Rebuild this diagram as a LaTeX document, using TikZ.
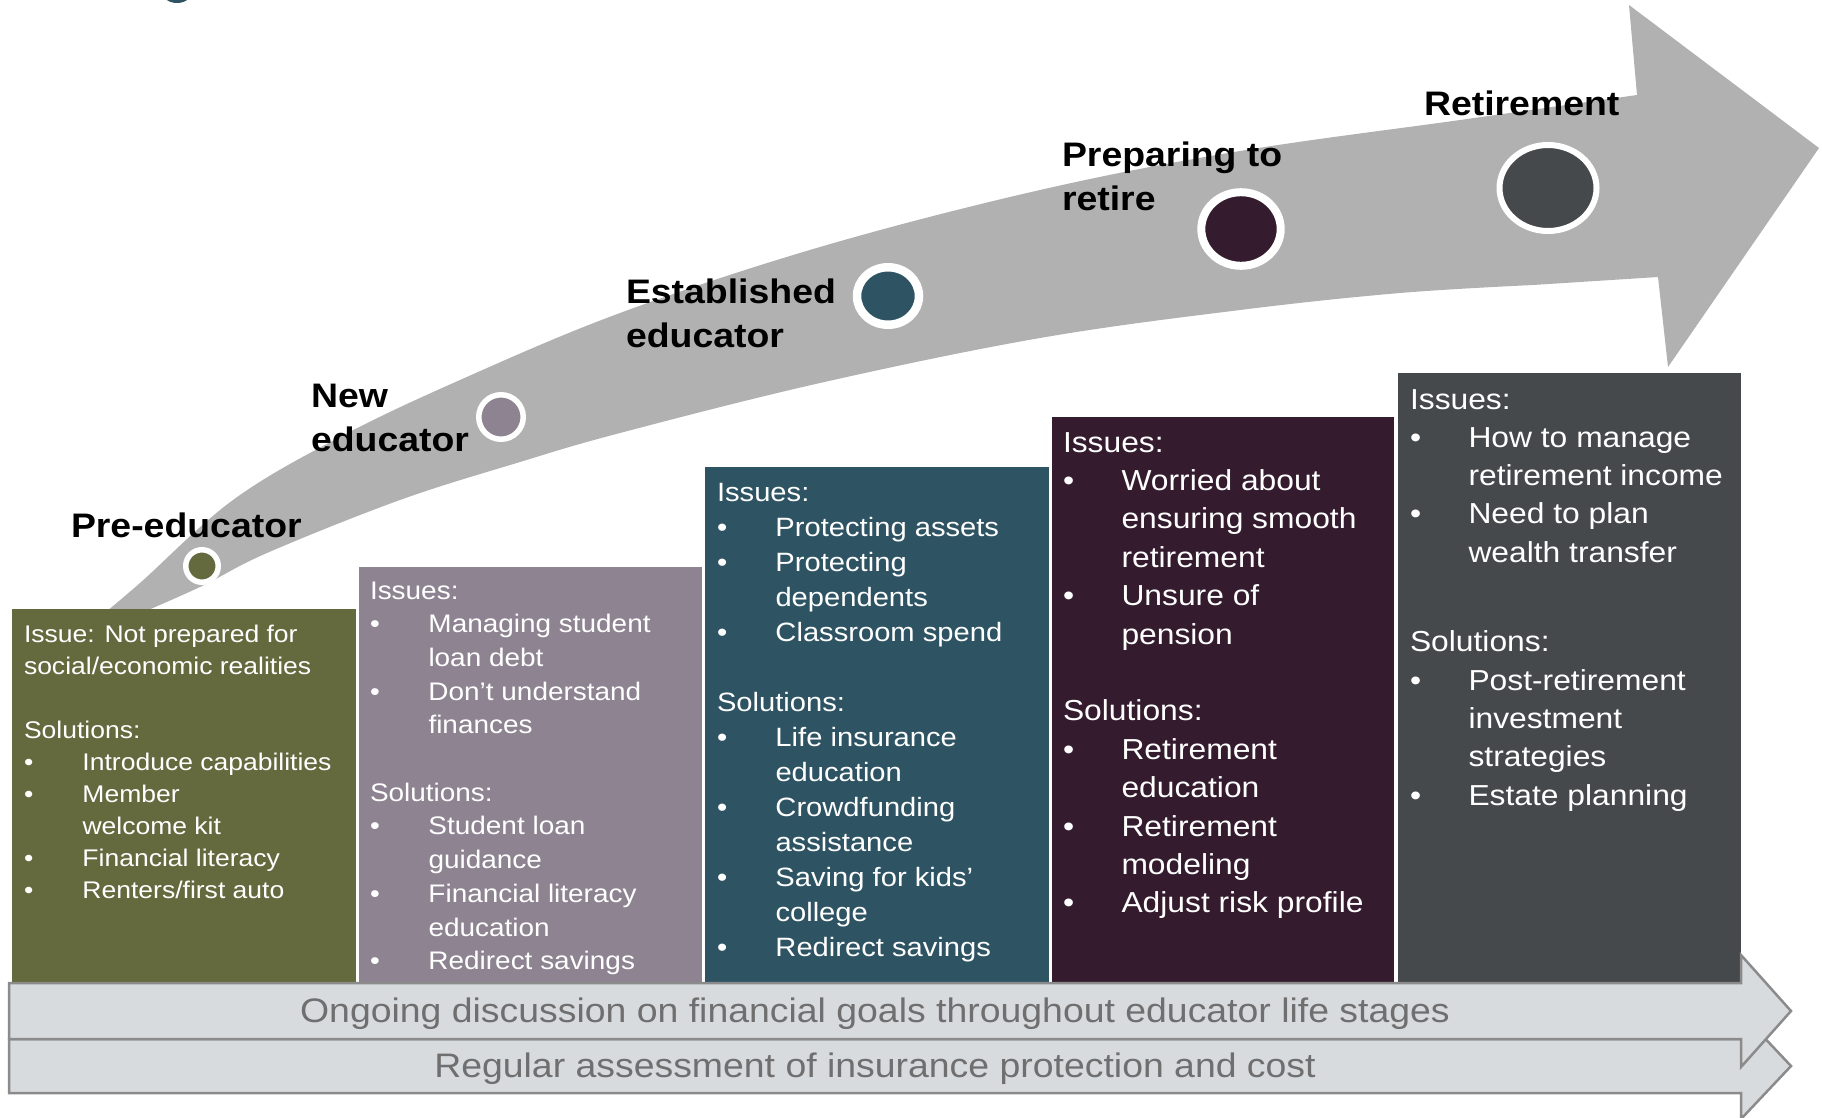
\documentclass[tikz,border=0pt]{standalone}
\usepackage{fontspec}
\setmainfont{Liberation Sans}[FakeStretch=1.1]
\usetikzlibrary{shapes.geometric}

\definecolor{oliveC}{HTML}{656A3E}
\definecolor{mauveC}{HTML}{8E8491}
\definecolor{tealC}{HTML}{2E5464}
\definecolor{plumC}{HTML}{341C2E}
\definecolor{charC}{HTML}{45494C}
\definecolor{arrowC}{HTML}{B1B1B1}
\definecolor{bannerC}{HTML}{D8DBDE}
\definecolor{bannerLine}{HTML}{8B8B8B}
\definecolor{bannerText}{HTML}{6F6F6F}

% rows of the stacked text blocks
\newlength\itemind
\setlength\itemind{58.5pt}
\newcommand\plainrow[1]{\hbox{#1}}
\newcommand\bulrow[1]{\hbox{\hbox to\itemind{•\hfil}#1}}
\newcommand\controw[1]{\hbox{\hspace*{\itemind}#1}}
\newcommand\gaprow{\hbox{}}

\tikzset{
  stage/.style={anchor=base west, inner sep=0pt, outer sep=0pt,
    font=\bfseries\fontsize{34}{44.5}\selectfont, text=black},
  boxtext/.style={anchor=base west, inner sep=0pt, outer sep=0pt, text=white},
  dot/.style={ellipse, draw=white, inner sep=0pt, outer sep=0pt},
  banner/.style={fill=bannerC, draw=bannerLine, line width=2.5pt},
  bannertext/.style={anchor=base, inner sep=0pt, outer sep=0pt, text=bannerText,
    font=\fontsize{34}{40}\selectfont}
}

\begin{document}
\begin{tikzpicture}[x=1pt,y=-1pt]
\useasboundingbox (0,0) rectangle (1822,1117);
\clip (0,0) rectangle (1822,1117);

% fragment of a heading glyph cut by the top edge
\fill[tealC] (177,-10) ellipse [x radius=16pt, y radius=13pt];

% the rising career arrow
\fill[arrowC]
  plot[smooth, tension=0.6] coordinates {(96,620) (140,583) (233,500) (340,437)
    (460,380) (620,313) (820,247) (1040,190) (1240,151) (1460,120) (1637,95)}
  -- (1629,5) -- (1819,148) -- (1668,367) -- (1658,277)
  -- plot[smooth, tension=0.6] coordinates {(1533,285) (1400,293) (1240,310)
    (1040,338) (820,383) (620,433) (520,462) (400,500) (267,553) (200,587) (125,620)}
  -- cycle;

% stage markers
\node[dot, fill=oliveC, line width=5.5pt, minimum width=32.5pt, minimum height=32.5pt] (dotPre) at (202,566) {};
\node[dot, fill=mauveC, line width=5.5pt, minimum width=44.5pt, minimum height=44.5pt] (dotNew) at (501,417) {};
\node[dot, fill=tealC, line width=8.5pt, minimum width=62pt, minimum height=57.5pt] (dotEst) at (888,296) {};
\node[dot, fill=plumC, line width=8pt, minimum width=79.4pt, minimum height=73.6pt] (dotPrep) at (1241,229) {};
\node[dot, fill=charC, line width=6pt, minimum width=97pt, minimum height=86pt] (dotRet) at (1548,188) {};

% stage names
\node[stage] (lblPre) at (71,537) {Pre-educator};
\node[stage] (lblNew) at (311,407) {\vtop{\plainrow{New}\plainrow{educator}}};
\node[stage] (lblEst) at (626,303) {\vtop{\plainrow{Established}\plainrow{educator}}};
\node[stage] (lblPrep) at (1062,166) {\vtop{\plainrow{Preparing to}\plainrow{retire}}};
\node[stage] (lblRet) at (1424,115) {Retirement};

% stage panels
\fill[oliveC] (12,609) rectangle (356,983);
\fill[mauveC] (359,567) rectangle (702,983);
\fill[tealC] (705,467) rectangle (1049,983);
\fill[plumC] (1052,417) rectangle (1394,983);
\fill[charC] (1398,373) rectangle (1741,983);

\node[boxtext, font=\fontsize{24.1}{32}\selectfont] (txtPre) at (24,642) {\vtop{%
  \plainrow{Issue: Not prepared for}
  \plainrow{social/economic realities}
  \gaprow
  \plainrow{Solutions:}
  \bulrow{Introduce capabilities}
  \bulrow{Member}
  \controw{welcome kit}
  \bulrow{Financial literacy}
  \bulrow{Renters/first auto}}};

\node[boxtext, font=\fontsize{25.4}{33.7}\selectfont] (txtNew) at (370,599) {\vtop{%
  \plainrow{Issues:}
  \bulrow{Managing student}
  \controw{loan debt}
  \bulrow{Don’t understand}
  \controw{finances}
  \gaprow
  \plainrow{Solutions:}
  \bulrow{Student loan}
  \controw{guidance}
  \bulrow{Financial literacy}
  \controw{education}
  \bulrow{Redirect savings}}};

\node[boxtext, font=\fontsize{26.5}{35}\selectfont] (txtEst) at (717,501) {\vtop{%
  \plainrow{Issues:}
  \bulrow{Protecting assets}
  \bulrow{Protecting}
  \controw{dependents}
  \bulrow{Classroom spend}
  \gaprow
  \plainrow{Solutions:}
  \bulrow{Life insurance}
  \controw{education}
  \bulrow{Crowdfunding}
  \controw{assistance}
  \bulrow{Saving for kids’}
  \controw{college}
  \bulrow{Redirect savings}}};

\node[boxtext, font=\fontsize{28.9}{38.4}\selectfont] (txtPrep) at (1063,452) {\vtop{%
  \plainrow{Issues:}
  \bulrow{Worried about}
  \controw{ensuring smooth}
  \controw{retirement}
  \bulrow{Unsure of}
  \controw{pension}
  \gaprow
  \plainrow{Solutions:}
  \bulrow{Retirement}
  \controw{education}
  \bulrow{Retirement}
  \controw{modeling}
  \bulrow{Adjust risk profile}}};

\node[boxtext, font=\fontsize{28.9}{38.3}\selectfont] (txtRet) at (1410,409) {\vtop{%
  \plainrow{Issues:}
  \bulrow{How to manage}
  \controw{retirement income}
  \bulrow{Need to plan}
  \controw{wealth transfer}
  \gaprow
  \vskip 13pt
  \plainrow{Solutions:}
  \bulrow{Post-retirement}
  \controw{investment}
  \controw{strategies}
  \bulrow{Estate planning}}};

% ongoing themes along the bottom
\filldraw[banner] (9,1039) -- (1741,1039) -- (1741,1013) -- (1791,1066)
  -- (1741,1119) -- (1741,1093) -- (9,1093) -- cycle;
\filldraw[banner] (9,983) -- (1741,983) -- (1741,955) -- (1791,1011)
  -- (1741,1067) -- (1741,1039) -- (9,1039) -- cycle;

\node[bannertext] (themeA) at (875,1022) {Ongoing discussion on financial goals throughout educator life stages};
\node[bannertext] (themeB) at (875,1077) {Regular assessment of insurance protection and cost};
\end{tikzpicture}
\end{document}
